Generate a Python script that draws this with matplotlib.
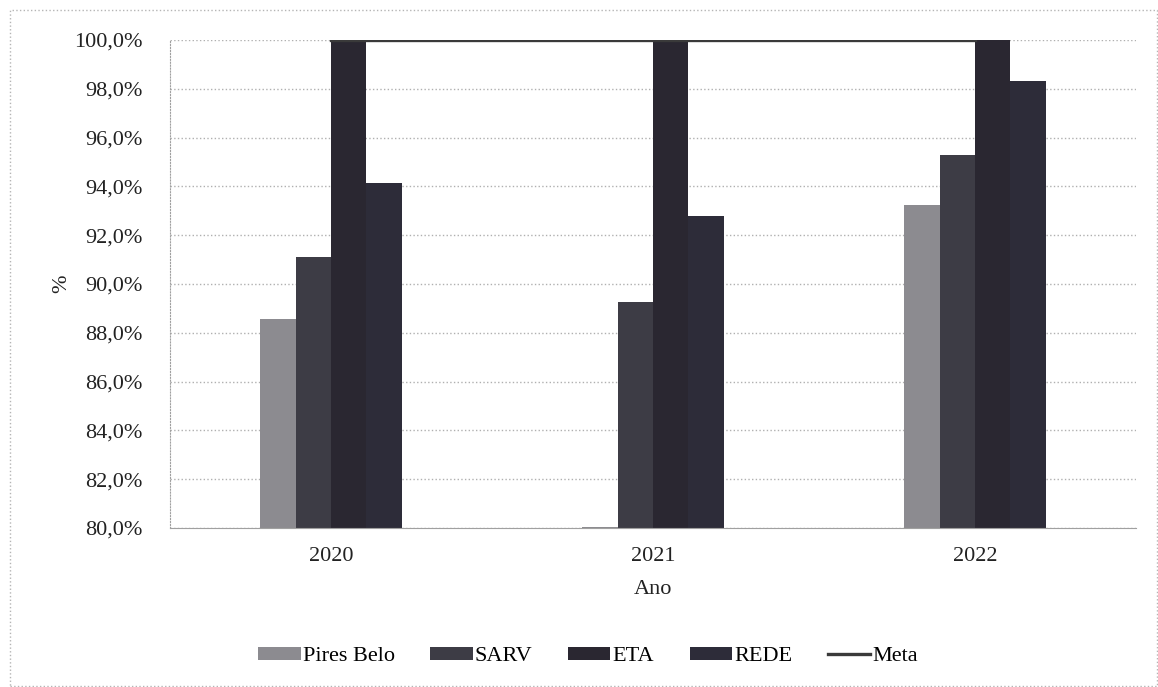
import numpy as np
import matplotlib.pyplot as plt
from matplotlib.patches import Rectangle
from matplotlib.ticker import FuncFormatter

plt.rcParams['font.family'] = ['Liberation Serif', 'DejaVu Serif']

anos = ['2020', '2021', '2022']
pires_belo = [88.55, 80.05, 93.25]
sarv = [91.1, 89.25, 95.3]
eta = [100.0, 100.0, 100.0]
rede = [94.15, 92.8, 98.3]
meta = [100.0, 100.0, 100.0]

series = [('Pires Belo', pires_belo, '#8c8b90'),
          ('SARV', sarv, '#3d3c45'),
          ('ETA', eta, '#2a2731'),
          ('REDE', rede, '#2d2c39')]

fig = plt.figure(figsize=(11.58, 6.87), dpi=100)
ax = fig.add_axes([0.1468, 0.2314, 0.8342, 0.7104])

x = np.arange(len(anos))
w = 0.11
for i, (nome, vals, cor) in enumerate(series):
    ax.bar(x + (i - 1.5) * w, vals, width=w, color=cor, label=nome, zorder=2)
ax.plot(x, meta, color='#3a3a3a', linewidth=2.4, label='Meta', zorder=3)

ax.set_xlim(-0.5, 2.5)
ax.set_ylim(80, 100)
ax.set_yticks(np.arange(80, 100.1, 2))
ax.yaxis.set_major_formatter(FuncFormatter(lambda v, p: f'{v:.1f}%'.replace('.', ',')))
ax.set_xticks(x)
ax.set_xticklabels(anos)
ax.tick_params(axis='both', length=0, labelsize=16, colors='#222222')
ax.tick_params(axis='y', pad=20)
ax.tick_params(axis='x', pad=14)

ax.grid(axis='y', linestyle=':', color='#b0b0b0', linewidth=1, zorder=0)
ax.set_axisbelow(True)
for s in ['top', 'right']:
    ax.spines[s].set_visible(False)
ax.spines['left'].set_linestyle(':')
ax.spines['left'].set_color('#a0a0a0')
ax.spines['bottom'].set_color('#a0a0a0')

ax.set_xlabel('Ano', fontsize=16, color='#222222', labelpad=10)
ax.set_ylabel('%', fontsize=16, color='#222222', labelpad=2)

h, l = ax.get_legend_handles_labels()
h = h[1:] + h[:1]
l = l[1:] + l[:1]
fig.legend(h, l, loc='center', bbox_to_anchor=(0.508, 0.044), ncol=5, frameon=False,
           fontsize=16, handlelength=1.9, handleheight=0.5, handletextpad=0.1,
           columnspacing=1.6)

fig.patches.append(Rectangle((0.009, 0.002), 0.99, 0.984, transform=fig.transFigure,
                             fill=False, edgecolor='#b5b5b5', linestyle=':', linewidth=1))

fig.savefig('out.png', dpi=100)
